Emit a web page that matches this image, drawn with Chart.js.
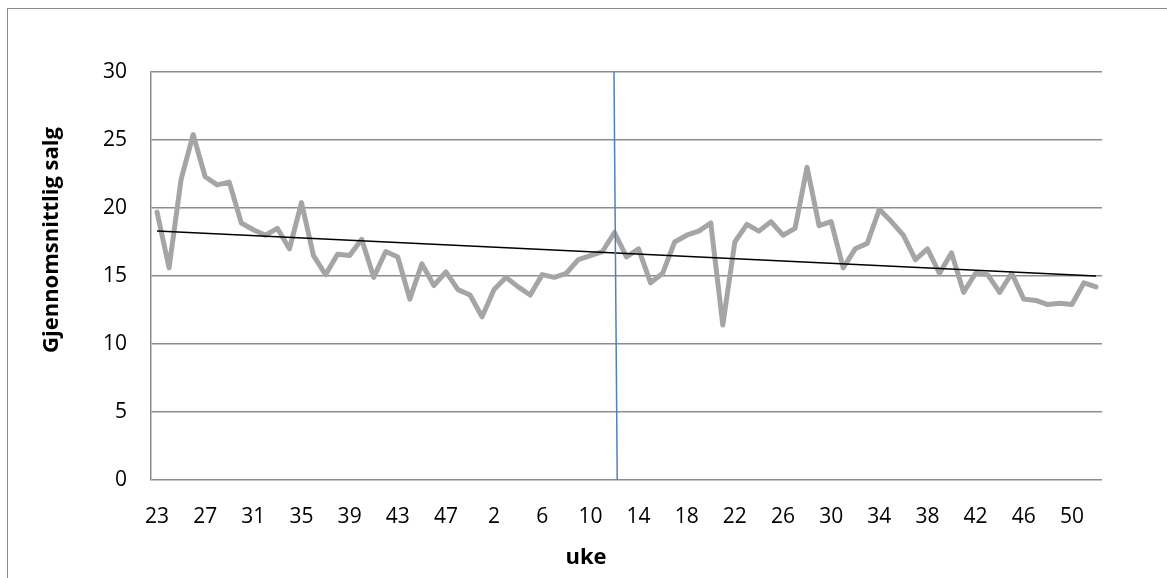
<!DOCTYPE html>
<html lang="no">
<head>
    <meta charset="UTF-8">
    <title>Gjennomsnittlig salg per uke</title>
    <script src="https://cdn.jsdelivr.net/npm/chart.js"></script>
    <style>
        body { margin: 0; background: #fff; }
        #wrap { position: relative; width: 1167px; height: 578px; }
        #frame { position: absolute; left: 7px; top: 8px; right: 0; bottom: 0;
                 border-left: 1.5px solid #8c8c8c; border-top: 1.5px solid #8c8c8c; }
        canvas { position: absolute; left: 0; top: 0; }
    </style>
</head>
<body>
<div id="wrap">
    <div id="frame"></div>
    <canvas id="salgChart" width="1167" height="578"></canvas>
</div>

<script>
    // week numbers (two seasons), one per point
    const weeks = [23, 24, 25, 26, 27, 28, 29, 30, 31, 32, 33, 34, 35, 36, 37, 38, 39, 40, 41, 42,
                   43, 44, 45, 46, 47, 48, 49, 1, 2, 3, 4, 5, 6, 7, 8, 9, 10, 11, 12, 13,
                   14, 15, 16, 17, 18, 19, 20, 21, 22, 23, 24, 25, 26, 27, 28, 29, 30, 31, 32, 33,
                   34, 35, 36, 37, 38, 39, 40, 41, 42, 43, 44, 45, 46, 47, 48, 49, 50, 51, 52];

    // average sales per week
    const avgSales = [19.7, 15.6, 22.1, 25.4, 22.3, 21.7, 21.9, 18.9, 18.4, 18.0,
                      18.5, 17.0, 20.4, 16.5, 15.1, 16.6, 16.5, 17.7, 14.9, 16.8,
                      16.4, 13.3, 15.9, 14.3, 15.3, 14.0, 13.6, 12.0, 14.0, 14.9,
                      14.2, 13.6, 15.1, 14.9, 15.2, 16.2, 16.5, 16.8, 18.2, 16.4,
                      17.0, 14.5, 15.2, 17.5, 18.0, 18.3, 18.9, 11.4, 17.5, 18.8,
                      18.3, 19.0, 18.0, 18.5, 23.0, 18.7, 19.0, 15.6, 17.0, 17.4,
                      19.9, 19.0, 18.0, 16.2, 17.0, 15.2, 16.7, 13.8, 15.2, 15.1,
                      13.8, 15.2, 13.3, 13.2, 12.9, 13.0, 12.9, 14.5, 14.2];

    // linear trend, start and end
    const trendIdx = [0, 78];
    const trendVal = [18.3, 15.0];

    // vertical divider line (position in point index units)
    const dividerIdx = [37.96, 38.23];
    const dividerVal = [30, 0];

    // which points get a tick label (every 4th)
    const labelIdx = [];
    for (let i = 0; i < weeks.length; i += 4) labelIdx.push(i);

    const FONT = "'Open Sans', 'Liberation Sans', sans-serif";

    // axis titles drawn by hand so they can sit where Excel put them
    const titlePlugin = {
        id: 'titles',
        afterDraw(chart) {
            const ctx = chart.ctx;
            ctx.save();
            ctx.fillStyle = '#000';
            ctx.font = 'bold 22px ' + FONT;
            ctx.textAlign = 'center';
            ctx.textBaseline = 'middle';
            ctx.translate(52, 240);
            ctx.rotate(-Math.PI / 2);
            ctx.fillText('Gjennomsnittlig salg', 0, 0);
            ctx.restore();

            ctx.save();
            ctx.fillStyle = '#000';
            ctx.font = 'bold 22px ' + FONT;
            ctx.textAlign = 'center';
            ctx.textBaseline = 'middle';
            ctx.fillText('uke', 586, 558);
            ctx.restore();
        }
    };

    const ctx = document.getElementById('salgChart').getContext('2d');
    new Chart(ctx, {
        type: 'line',
        data: {
            datasets: [
                {
                    label: 'Skille',
                    data: dividerIdx.map((x, i) => ({ x: x, y: dividerVal[i] })),
                    borderColor: '#4F81BD',
                    borderWidth: 1.5,
                    pointRadius: 0,
                    order: 0
                },
                {
                    label: 'Trend',
                    data: trendIdx.map((x, i) => ({ x: x, y: trendVal[i] })),
                    borderColor: '#000000',
                    borderWidth: 1.5,
                    pointRadius: 0,
                    order: 1
                },
                {
                    label: 'Gjennomsnittlig salg',
                    data: avgSales.map((v, i) => ({ x: i, y: v })),
                    borderColor: '#A5A5A5',
                    borderWidth: 5,
                    borderJoinStyle: 'round',
                    borderCapStyle: 'round',
                    pointRadius: 0,
                    tension: 0,
                    order: 2
                }
            ]
        },
        options: {
            responsive: false,
            animation: false,
            layout: { padding: { top: 72, right: 65, bottom: 0, left: 0 } },
            plugins: {
                legend: { display: false },
                tooltip: { enabled: false }
            },
            scales: {
                x: {
                    type: 'linear',
                    min: -0.5,
                    max: weeks.length - 0.5,
                    afterBuildTicks(scale) {
                        scale.ticks = labelIdx.map(v => ({ value: v }));
                    },
                    afterFit(scale) { scale.height = 98; },
                    grid: { display: false },
                    border: { display: false },
                    ticks: {
                        autoSkip: false,
                        maxRotation: 0,
                        padding: 16,
                        color: '#000',
                        font: { family: FONT, size: 21 },
                        callback: v => weeks[v]
                    }
                },
                y: {
                    min: 0,
                    max: 30,
                    afterFit(scale) { scale.width = 151; },
                    ticks: {
                        stepSize: 5,
                        padding: 24,
                        color: '#000',
                        font: { family: FONT, size: 21 }
                    },
                    grid: { color: '#8c8c8c', lineWidth: 1.5, drawTicks: false },
                    border: { color: '#8c8c8c', width: 1.5 }
                }
            }
        },
        plugins: [titlePlugin]
    });
</script>
</body>
</html>
